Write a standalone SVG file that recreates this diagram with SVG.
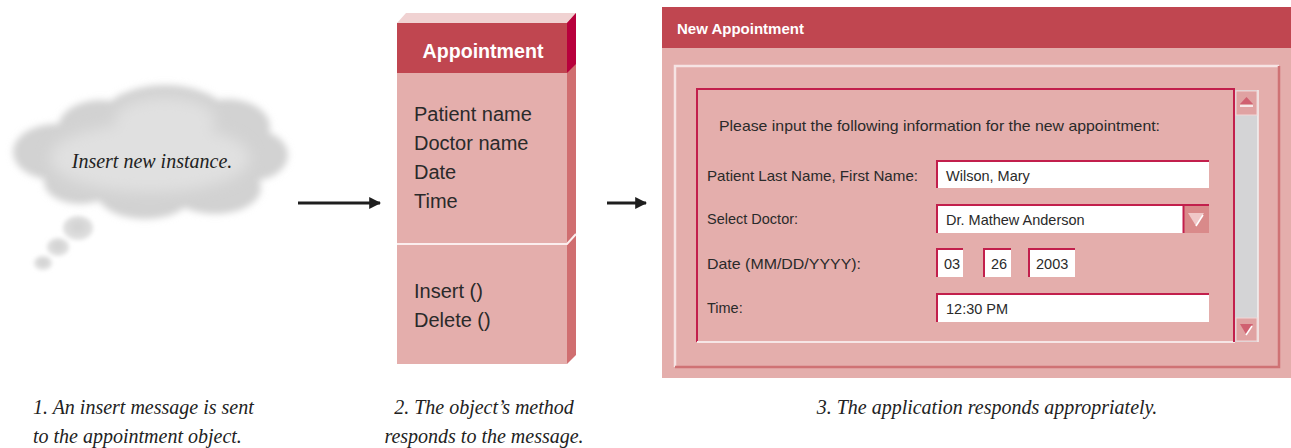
<svg xmlns="http://www.w3.org/2000/svg" width="1291" height="448" viewBox="0 0 1291 448">
  <defs>
    <style>
      .cap { font-family: "Liberation Serif", serif; font-style: italic; font-size: 20px; fill: #222; }
      .ui { font-family: "Liberation Sans", sans-serif; fill: #2a2a2a; }
      .lbl { font-family: "Liberation Sans", sans-serif; font-size: 14.5px; fill: #2a2a2a; }
      .fld { fill: #ffffff; }
      .fldTL { fill: none; stroke: #c21f4c; stroke-width: 2; }
      .conn { stroke: #1e1e1e; stroke-width: 3; fill: none; }
    </style>
    <marker id="ah" viewBox="0 0 10 10" refX="9" refY="5" markerWidth="4" markerHeight="4" orient="auto" markerUnits="strokeWidth">
      <path d="M0,0 L10,5 L0,10 Z" fill="#1e1e1e"/>
    </marker>
    <filter id="soft" x="-20%" y="-30%" width="140%" height="160%">
      <feGaussianBlur stdDeviation="3.5"/>
    </filter>
    <filter id="soft3" x="-20%" y="-30%" width="140%" height="160%">
      <feGaussianBlur stdDeviation="7"/>
    </filter>
    <filter id="soft2" x="-50%" y="-50%" width="200%" height="200%">
      <feGaussianBlur stdDeviation="2"/>
    </filter>
    <radialGradient id="bg" cx="0.5" cy="0.45" r="0.55">
      <stop offset="0" stop-color="#d0d0d0"/>
      <stop offset="1" stop-color="#e2e2e2"/>
    </radialGradient>
  </defs>

  <rect width="1291" height="448" fill="#ffffff"/>

  <!-- Node 1: thought cloud -->
  <g id="cloud">
    <g filter="url(#soft)" fill="#d2d2d2">
      <ellipse cx="165" cy="117" rx="62" ry="32"/>
      <ellipse cx="100" cy="128" rx="42" ry="28"/>
      <ellipse cx="228" cy="127" rx="42" ry="28"/>
      <ellipse cx="55" cy="152" rx="42" ry="28"/>
      <ellipse cx="250" cy="155" rx="38" ry="26"/>
      <ellipse cx="80" cy="182" rx="36" ry="22"/>
      <ellipse cx="145" cy="193" rx="48" ry="26"/>
      <ellipse cx="215" cy="188" rx="46" ry="26"/>
      <ellipse cx="150" cy="155" rx="112" ry="46"/>
    </g>
    <g filter="url(#soft3)" fill="#e0e0e0">
      <ellipse cx="165" cy="120" rx="50" ry="22"/>
      <ellipse cx="150" cy="158" rx="100" ry="34"/>
    </g>
    <g filter="url(#soft2)" fill="url(#bg)">
      <ellipse cx="78" cy="228" rx="15" ry="12"/>
      <ellipse cx="58" cy="247" rx="11" ry="9"/>
      <ellipse cx="43" cy="263" rx="9" ry="7"/>
    </g>
    <text x="152" y="168" text-anchor="middle" class="cap">Insert new instance.</text>
  </g>

  <!-- Node 2: Appointment class box -->
  <g id="appointment-class">
    <polygon points="397,23 406,13 576,13 567,23" fill="#f0d2d2"/>
    <polygon points="567,23 576,13 576,355 567,364" fill="#d06e70"/>
    <polygon points="567,23 576,13 576,64 567,73" fill="#b8003c"/>
    <rect x="397" y="23" width="170" height="50" fill="#c04650"/>
    <rect x="397" y="73" width="170" height="291" fill="#e4aeac"/>
    <polyline points="397,244 567,244 576,234" fill="none" stroke="#fbeeee" stroke-width="2"/>
    <text x="483" y="58" text-anchor="middle" class="ui" font-size="21" font-weight="bold" style="fill:#ffffff" textLength="121" lengthAdjust="spacingAndGlyphs">Appointment</text>
    <text class="ui" font-size="20" x="414" y="121">Patient name</text>
    <text class="ui" font-size="20" x="414" y="150">Doctor name</text>
    <text class="ui" font-size="20" x="414" y="179">Date</text>
    <text class="ui" font-size="20" x="414" y="208">Time</text>
    <text class="ui" font-size="20" x="414" y="298">Insert ()</text>
    <text class="ui" font-size="20" x="414" y="327">Delete ()</text>
  </g>

  <!-- Node 3: application window -->
  <g id="new-appointment-window">
    <rect x="662" y="7" width="629" height="371" fill="#e4aeac"/>
    <rect x="662" y="7" width="629" height="41" fill="#c04650"/>
    <text x="677" y="34" class="ui" font-size="15" font-weight="bold" style="fill:#ffffff">New Appointment</text>
    <!-- raised panel -->
    <polyline points="675,367 675,66 1279,66" fill="none" stroke="#f6e4e4" stroke-width="2.5"/>
    <polyline points="675,367 1279,367 1279,66" fill="none" stroke="#cf7274" stroke-width="2.5"/>
    <!-- form frame -->
    <polyline points="697,342 697,89 1235,89" fill="none" stroke="#c21f4c" stroke-width="2"/>
    <line x1="697" y1="342" x2="1235" y2="342" stroke="#f6e6e6" stroke-width="2"/>
    <line x1="1234" y1="89" x2="1234" y2="342" stroke="#c21f4c" stroke-width="2"/>
    <!-- scrollbar -->
    <rect x="1235" y="90" width="23" height="252" fill="#d4d4d6"/>
    <line x1="1258" y1="90" x2="1258" y2="342" stroke="#f4f0f0" stroke-width="1.5"/>
    <rect x="1236" y="91" width="21" height="24" fill="#e0a2a2" stroke="#f2d6d6" stroke-width="1"/>
    <polygon points="1240,104 1253,104 1246.5,97" fill="#d06070"/>
    <line x1="1240" y1="106" x2="1253" y2="106" stroke="#ffffff" stroke-width="1.5"/>
    <rect x="1236" y="318" width="21" height="23" fill="#e0a2a2" stroke="#f2d6d6" stroke-width="1"/>
    <polygon points="1240,324 1253,324 1246.5,335" fill="#d06070"/>
    <line x1="1246" y1="335" x2="1252" y2="326" stroke="#ffffff" stroke-width="1.5"/>

    <text x="719" y="131" class="lbl" textLength="441" lengthAdjust="spacingAndGlyphs">Please input the following information for the new appointment:</text>

    <text x="707" y="181" class="lbl" textLength="211" lengthAdjust="spacingAndGlyphs">Patient Last Name, First Name:</text>
    <text x="707" y="224" class="lbl">Select Doctor:</text>
    <text x="707" y="269" class="lbl" textLength="154" lengthAdjust="spacingAndGlyphs">Date (MM/DD/YYYY):</text>
    <text x="707" y="313" class="lbl">Time:</text>

    <!-- patient name field -->
    <rect x="936" y="160" width="273" height="28" class="fld"/>
    <polyline points="937,188 937,161 1209,161" class="fldTL"/>
    <text x="946" y="181" class="lbl">Wilson, Mary</text>

    <!-- doctor select -->
    <rect x="936" y="204" width="273" height="29" class="fld"/>
    <polyline points="937,233 937,205 1209,205" class="fldTL"/>
    <text x="946" y="225" class="lbl">Dr. Mathew Anderson</text>
    <rect x="1183" y="206" width="26" height="27" fill="#d98a8a"/>
    <line x1="1183.5" y1="206" x2="1183.5" y2="233" stroke="#c21f4c" stroke-width="2"/>
    <polygon points="1188,213 1204,213 1196,226" fill="#f0c8c8"/>
    <line x1="1196" y1="226" x2="1203" y2="215" stroke="#ffffff" stroke-width="1.5"/>

    <!-- date fields -->
    <rect x="936" y="248" width="27" height="29" class="fld"/>
    <polyline points="937,277 937,249 963,249" class="fldTL"/>
    <text x="944" y="269" class="lbl">03</text>
    <rect x="983" y="248" width="28" height="29" class="fld"/>
    <polyline points="984,277 984,249 1011,249" class="fldTL"/>
    <text x="991" y="269" class="lbl">26</text>
    <rect x="1028" y="248" width="47" height="29" class="fld"/>
    <polyline points="1029,277 1029,249 1075,249" class="fldTL"/>
    <text x="1036" y="269" class="lbl">2003</text>

    <!-- time field -->
    <rect x="936" y="293" width="273" height="29" class="fld"/>
    <polyline points="937,322 937,294 1209,294" class="fldTL"/>
    <text x="946" y="314" class="lbl">12:30 PM</text>
  </g>

  <!-- Connectors -->
  <g id="connectors">
    <line x1="298" y1="203" x2="380" y2="203" class="conn" marker-end="url(#ah)"/>
    <line x1="607" y1="203" x2="646" y2="203" class="conn" marker-end="url(#ah)"/>
  </g>

  <!-- Captions -->
  <g id="captions">
    <text x="33" y="414" class="cap">1. An insert message is sent</text>
    <text x="33" y="443" class="cap">to the appointment object.</text>
    <text x="484" y="414" class="cap" text-anchor="middle">2. The object’s method</text>
    <text x="484" y="443" class="cap" text-anchor="middle">responds to the message.</text>
    <text x="987" y="414" class="cap" text-anchor="middle">3. The application responds appropriately.</text>
  </g>
</svg>
